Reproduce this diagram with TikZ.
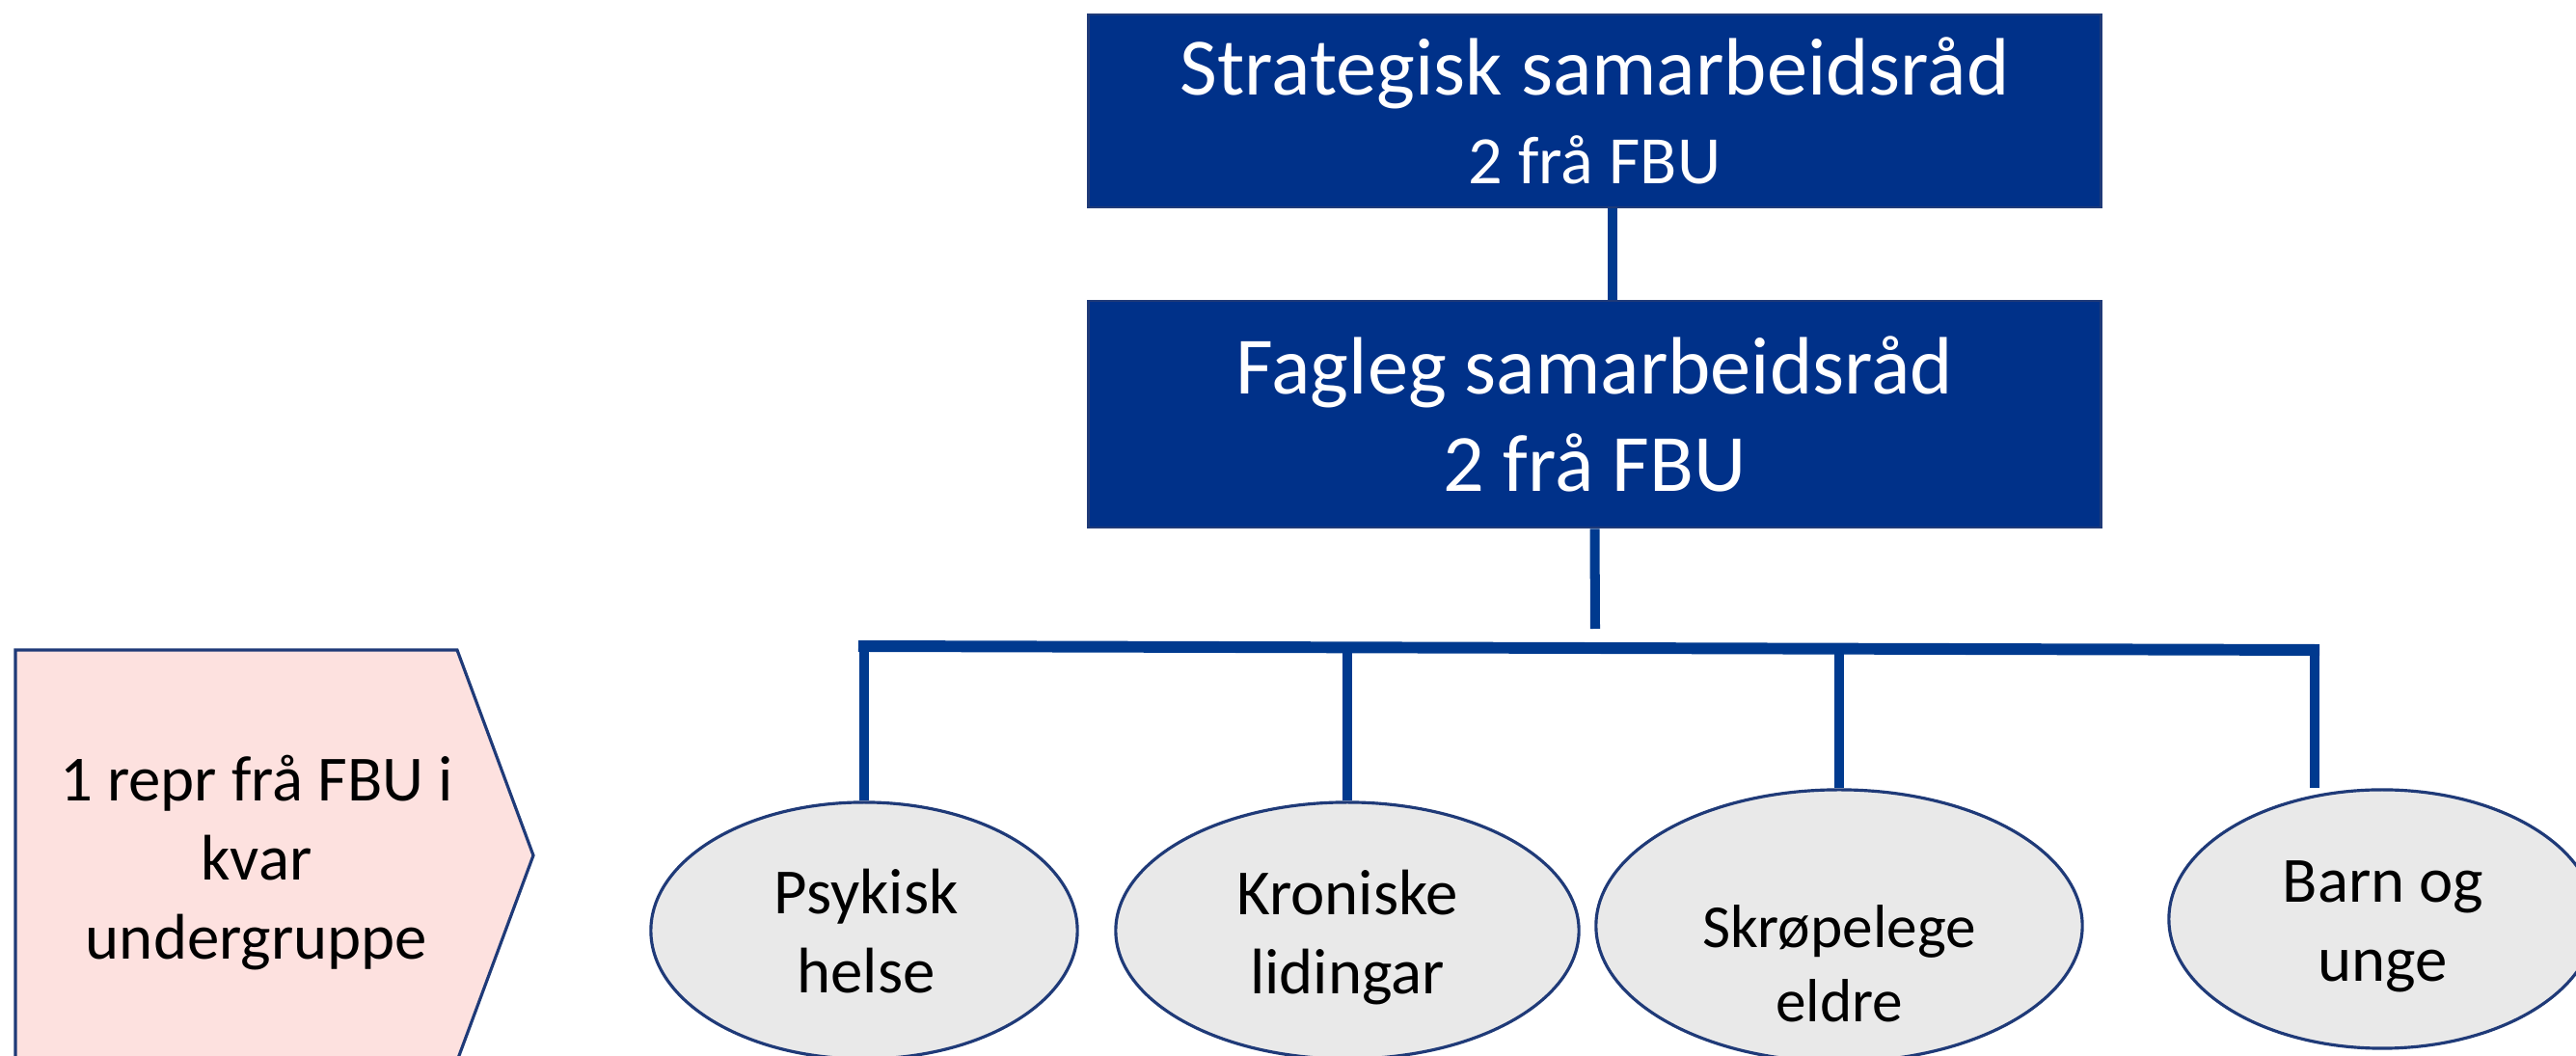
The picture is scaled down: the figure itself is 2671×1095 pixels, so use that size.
\documentclass[tikz,border=0pt]{standalone}
\usepackage{fontspec}
\setmainfont{Carlito}
\usetikzlibrary{shapes.geometric}
\definecolor{boardblue}{HTML}{003189}
\definecolor{linkblue}{HTML}{003A8F}
\definecolor{edgenavy}{HTML}{1F3A78}
\definecolor{groupgray}{HTML}{E9E9E9}
\definecolor{notepink}{HTML}{FDE1DF}
\begin{document}
\begin{tikzpicture}[x=0.01cm, y=-0.01cm,
	board/.style={rectangle, fill=boardblue, draw=edgenavy, line width=0.8pt, text=white, align=center, minimum width=10.49cm, inner sep=0pt},
	group/.style={ellipse, fill=groupgray, draw=edgenavy, line width=0.9pt, inner sep=0pt},
	grouptext/.style={align=center, inner sep=0pt, font=\fontsize{19}{23.3}\selectfont},
	link/.style={draw=linkblue, line width=2.85pt},
	bus/.style={draw=linkblue, line width=3.4pt}]
	\useasboundingbox (0,0) rectangle (2671,1095);
	\clip (0,0) rectangle (2671,1095);
	% councils
	\node[board, minimum height=2cm, font=\fontsize{24}{26}\selectfont] (strat) at (1653.5,115) {Strategisk samarbeidsråd\\{\fontsize{20}{26}\selectfont 2 frå FBU}};
	\node[board, minimum height=2.35cm, font=\fontsize{24}{28.7}\selectfont] (fagleg) at (1653.5,429.5) {Fagleg samarbeidsråd\\2 frå FBU};
	% subgroups
	\node[group, minimum width=4.42cm, minimum height=2.66cm] (psyk) at (896,965) {};
	\node[group, minimum width=4.80cm, minimum height=2.66cm] (kron) at (1397,965) {};
	\node[group, minimum width=5.04cm, minimum height=2.82cm] (skrop) at (1907,960) {};
	\node[group, minimum width=4.42cm, minimum height=2.68cm] (barn) at (2470,953) {};
	\node[grouptext] (psyktxt) at (898,966) {Psykisk\\helse};
	\node[grouptext] (krontxt) at (1397,972) {Kroniske\\lidingar};
	\node[grouptext, font=\fontsize{18}{22}\selectfont] (skroptxt) at (1907,999) {Skrøpelege\\eldre};
	\node[grouptext] (barntxt) at (2471,961) {Barn og\\unge};
	% note
	\filldraw[fill=notepink, draw=edgenavy, line width=0.9pt] (16,674) -- (474,674) -- (553,887) -- (474,1100) -- (16,1100) -- cycle;
	\node[grouptext] (note) at (266,895) {1 repr frå FBU i\\kvar\\undergruppe};
	% connectors
	\draw[link] ([xshift=0.18cm]strat.south) -- ([xshift=0.18cm]fagleg.north);
	\coordinate (stub) at (1654,652);
	\draw[link] (fagleg.south) -- (stub);
	\coordinate (busL) at (890,670);
	\coordinate (busR) at (2405,674);
	\draw[bus] (busL) -- (busR);
	\draw[link] (psyk.north) -- (psyk.north |- busL);
	\draw[link] (kron.north) -- (kron.north |- busL);
	\draw[link] (skrop.north) -- (skrop.north |- busR);
	\coordinate (barnjoin) at ([xshift=-0.70cm]barn.north);
	\draw[link] (barnjoin) -- (barnjoin |- busR);
\end{tikzpicture}
\end{document}
